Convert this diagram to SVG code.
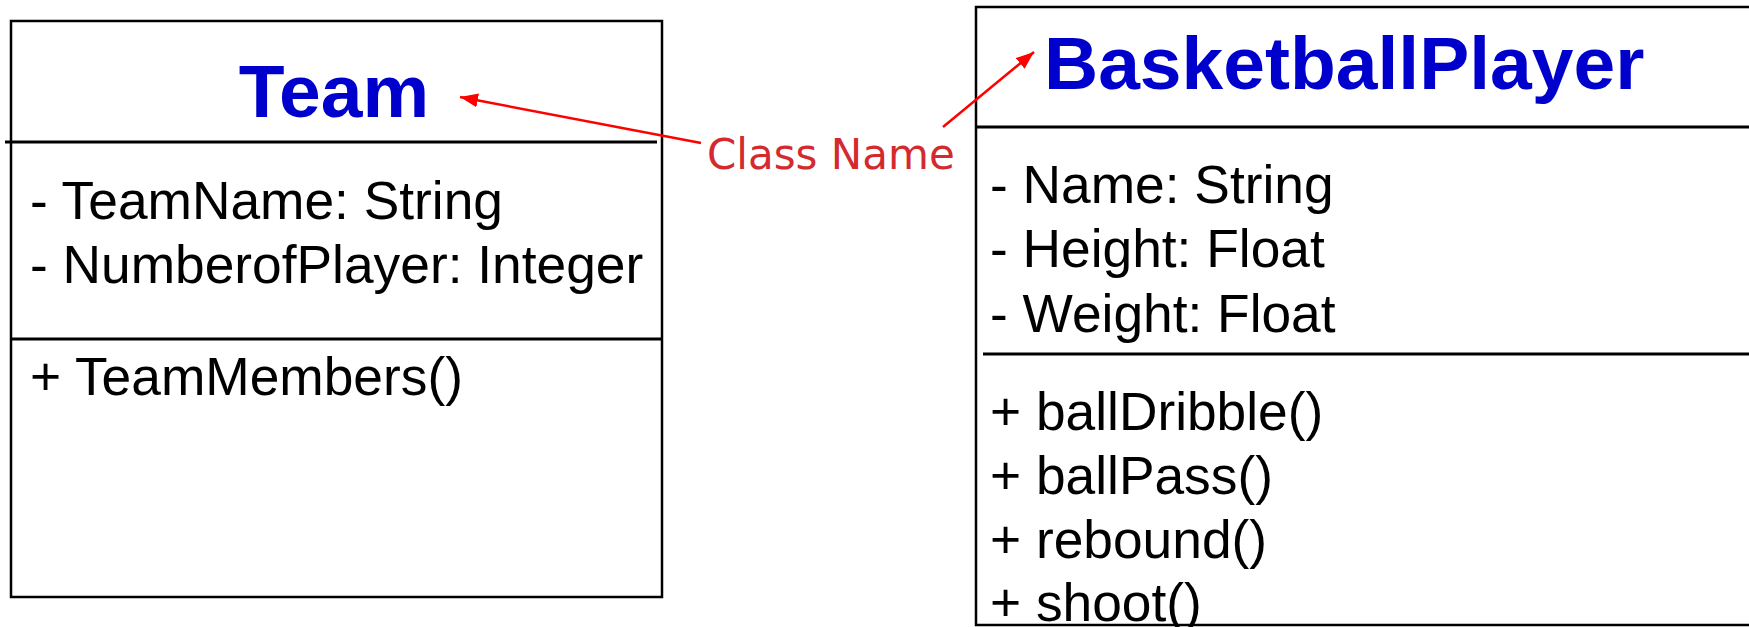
<svg xmlns="http://www.w3.org/2000/svg" width="1749" height="627" viewBox="0 0 1749 627">
<style>
.box{fill:#fff;stroke:#000;stroke-width:2.5}
.sep{stroke:#000;stroke-width:3}
.title{font-family:"Liberation Sans",Arial,sans-serif;font-weight:bold;font-size:75px;fill:#0000cc}
.item{font-family:"Liberation Sans",Arial,sans-serif;font-size:53.3px;fill:#000}
.lbl{font-family:"DejaVu Sans",sans-serif;font-size:42px;fill:#d42a2f}
.arr{stroke:#ff0000;stroke-width:2.5;fill:none;marker-end:url(#ah)}
</style>
<defs>
<marker id="ah" markerUnits="userSpaceOnUse" markerWidth="20" markerHeight="14" refX="18" refY="7" orient="auto">
<path d="M0,0 L18,7 L0,14 Z" fill="#ff0000"/>
</marker>
</defs>
<rect width="1749" height="627" fill="#fff"/>
<g id="team">
<rect class="box" x="11" y="21" width="651" height="576"/>
<line class="sep" x1="5" y1="142" x2="657" y2="142"/>
<line class="sep" x1="11" y1="339" x2="662" y2="339"/>
<text class="title" x="334" y="117" text-anchor="middle">Team</text>
<text class="item" x="30" y="219">- TeamName: String</text>
<text class="item" x="30" y="283">- NumberofPlayer: Integer</text>
<text class="item" x="30" y="395">+ TeamMembers()</text>
</g>
<g id="basketballplayer">
<rect class="box" x="976" y="7" width="790" height="618"/>
<line class="sep" x1="976" y1="127" x2="1749" y2="127"/>
<line class="sep" x1="983" y1="354" x2="1749" y2="354"/>
<text class="title" x="1044" y="89">BasketballPlayer</text>
<text class="item" x="990" y="203">- Name: String</text>
<text class="item" x="990" y="267">- Height: Float</text>
<text class="item" x="990" y="332">- Weight: Float</text>
<text class="item" x="990" y="430">+ ballDribble()</text>
<text class="item" x="990" y="494">+ ballPass()</text>
<text class="item" x="990" y="558">+ rebound()</text>
<text class="item" x="990" y="621">+ shoot()</text>
</g>
<g id="label">
<text class="lbl" x="707" y="169">Class Name</text>
</g>
<g id="connectors">
<line class="arr" x1="701" y1="143" x2="460" y2="97"/>
<line class="arr" x1="943" y1="127" x2="1034" y2="52"/>
</g>
</svg>
